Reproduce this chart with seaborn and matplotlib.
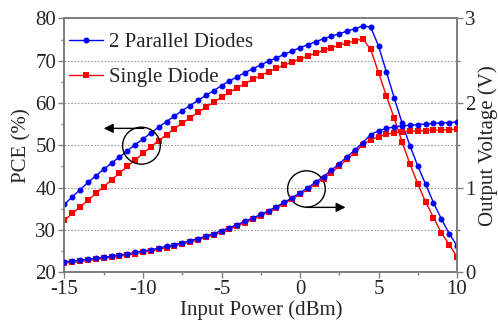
import pandas as pd
import seaborn as sns
import matplotlib.pyplot as plt
from matplotlib.patches import Ellipse
from matplotlib.ticker import MultipleLocator


input_power = [-15, -14.5, -14, -13.5, -13, -12.5, -12, -11.5, -11, -10.5,
               -10, -9.5, -9, -8.5, -8, -7.5, -7, -6.5, -6, -5.5,
               -5, -4.5, -4, -3.5, -3, -2.5, -2, -1.5, -1, -0.5,
               0, 0.5, 1, 1.5, 2, 2.5, 3, 3.5, 4, 4.5,
               5, 5.5, 6, 6.5, 7, 7.5, 8, 8.5, 9, 9.5, 10]

pce_parallel = [36.0, 37.8, 39.5, 41.2, 42.8, 44.3, 45.8, 47.2, 48.7, 50.1,
                51.5, 52.9, 54.3, 55.6, 56.9, 58.2, 59.4, 60.6, 61.8, 62.9,
                64.1, 65.2, 66.2, 67.2, 68.1, 69.0, 69.9, 70.7, 71.5, 72.3,
                73.1, 73.8, 74.5, 75.2, 75.8, 76.4, 77.0, 77.6, 78.2, 78.0,
                73.5, 67.4, 61.2, 55.3, 49.9, 45.1, 40.8, 36.4, 32.6, 29.1, 26.2]

pce_single = [32.2, 33.9, 35.4, 37.0, 38.6, 40.2, 41.8, 43.4, 45.0, 46.5,
              48.1, 49.6, 51.1, 52.5, 53.9, 55.2, 56.5, 57.8, 59.0, 60.2,
              61.4, 62.5, 63.6, 64.6, 65.6, 66.5, 67.4, 68.2, 69.0, 69.7,
              70.4, 71.1, 71.8, 72.5, 73.1, 73.7, 74.2, 74.7, 75.2, 72.7,
              67.2, 61.7, 56.4, 50.8, 45.6, 40.9, 36.6, 32.9, 29.3, 26.5, 23.6]

vout_parallel = [0.122, 0.130, 0.141, 0.152, 0.164, 0.176, 0.188, 0.201, 0.216, 0.231,
                 0.247, 0.264, 0.283, 0.303, 0.324, 0.346, 0.370, 0.396, 0.424, 0.455,
                 0.488, 0.524, 0.562, 0.600, 0.640, 0.681, 0.726, 0.774, 0.824, 0.880,
                 0.938, 0.998, 1.063, 1.130, 1.204, 1.282, 1.364, 1.445, 1.532, 1.626,
                 1.670, 1.699, 1.717, 1.729, 1.737, 1.745, 1.752, 1.758, 1.764, 1.769, 1.775]

vout_single = [0.106, 0.115, 0.126, 0.137, 0.149, 0.161, 0.173, 0.186, 0.201, 0.216,
               0.232, 0.249, 0.268, 0.288, 0.309, 0.331, 0.355, 0.381, 0.409, 0.440,
               0.473, 0.509, 0.547, 0.585, 0.625, 0.666, 0.711, 0.758, 0.808, 0.863,
               0.920, 0.977, 1.040, 1.106, 1.177, 1.252, 1.335, 1.413, 1.508, 1.565,
               1.603, 1.629, 1.646, 1.658, 1.666, 1.670, 1.674, 1.678, 1.681, 1.685, 1.689]


sns.set_style("ticks")
plt.rcParams['font.family'] = ['Liberation Serif', 'DejaVu Serif']
plt.rcParams['axes.unicode_minus'] = False

df = pd.DataFrame({"power": input_power,
                   "pce_par": pce_parallel, "pce_sgl": pce_single,
                   "v_par": vout_parallel, "v_sgl": vout_single})

fig = plt.figure(figsize=(4.98, 3.26), dpi=100)
ax = fig.add_axes([0.1295, 0.1656, 0.7882, 0.7777])
ax2 = ax.twinx()

line_kw = dict(linewidth=1.0, markeredgewidth=0, markersize=4.3)

sns.lineplot(data=df, x="power", y="pce_sgl", ax=ax, color="#ff0000",
             marker="s", label="Single Diode", zorder=3, **line_kw)
sns.lineplot(data=df, x="power", y="pce_par", ax=ax, color="#0000ff",
             marker="o", label="2 Parallel Diodes", zorder=4, **line_kw)
sns.lineplot(data=df, x="power", y="v_sgl", ax=ax2, color="#ff0000",
             marker="s", legend=False, zorder=3, **line_kw)
sns.lineplot(data=df, x="power", y="v_par", ax=ax2, color="#0000ff",
             marker="o", legend=False, zorder=4, **line_kw)

ax.set_xlim(-15, 10)
ax.set_ylim(20, 80)
ax2.set_ylim(0, 3)

ax.xaxis.set_major_locator(MultipleLocator(5))
ax.xaxis.set_minor_locator(MultipleLocator(2.5))
ax.yaxis.set_major_locator(MultipleLocator(10))
ax.yaxis.set_minor_locator(MultipleLocator(5))
ax2.yaxis.set_major_locator(MultipleLocator(1))
ax2.yaxis.set_minor_locator(MultipleLocator(0.5))

ax.yaxis.grid(True, which="major", color="#9a9a9a", linestyle=(0, (1.5, 1.5)), linewidth=0.8)
ax.set_axisbelow(True)

for a in (ax, ax2):
    for sp in a.spines.values():
        sp.set_color("#7f7f7f")
        sp.set_linewidth(1.3)
    a.tick_params(which="major", direction="out", length=4, width=1, color="#7f7f7f",
                  labelsize=15, pad=2)
    a.tick_params(which="minor", direction="out", length=2.5, width=1, color="#7f7f7f")

ax.set_xlabel("Input Power (dBm)", fontsize=15, labelpad=1)
ax.set_ylabel("PCE (%)", fontsize=15, labelpad=3)
ax2.set_ylabel("Output Voltage (V)", fontsize=15, labelpad=2)

# annotation circles and arrows
ax.add_patch(Ellipse((-10.1, 49.9), 2.4, 8.75, fill=False, edgecolor="black", linewidth=1.0, zorder=6))
ax.add_patch(Ellipse((0.41, 39.65), 2.4, 8.6, fill=False, edgecolor="black", linewidth=1.0, zorder=6))
ax.annotate("", xy=(-12.5, 54.0), xytext=(-9.95, 54.0),
            arrowprops=dict(arrowstyle="-|>", color="black", lw=1.0, mutation_scale=14,
                            shrinkA=0, shrinkB=0), zorder=6)
ax.annotate("", xy=(2.9, 35.3), xytext=(0.38, 35.3),
            arrowprops=dict(arrowstyle="-|>", color="black", lw=1.0, mutation_scale=14,
                            shrinkA=0, shrinkB=0), zorder=6)

handles, labels = ax.get_legend_handles_labels()
ax.legend(handles[::-1], labels[::-1], loc="upper left", bbox_to_anchor=(0.0, 0.96),
          frameon=False, fontsize=15, handlelength=1.65, handletextpad=0.3,
          labelspacing=0.72, borderaxespad=0.1, borderpad=0.1)

fig.savefig("out.png", dpi=100)
